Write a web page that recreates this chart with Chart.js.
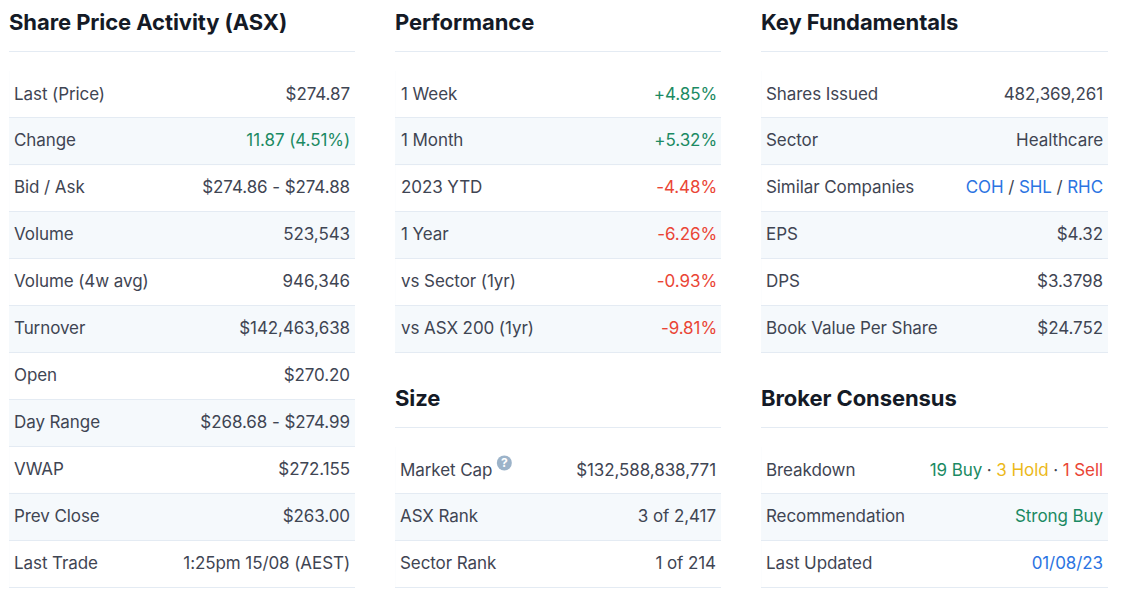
<!DOCTYPE html>
<html>
<head>
<meta charset="utf-8">
<title>Share Price Activity</title>
<script src="https://cdn.jsdelivr.net/npm/chart.js@4/dist/chart.umd.min.js"></script>
<style>
    html, body { margin: 0; padding: 0; background: #fff; }
    body { width: 1130px; height: 599px; overflow: hidden; position: relative; }
    canvas { position: absolute; }
</style>
</head>
<body>
<canvas id="activity"></canvas>
<canvas id="performance"></canvas>
<canvas id="size"></canvas>
<canvas id="fundamentals"></canvas>
<canvas id="broker"></canvas>
<script>
const TXT = "#3f4553";
const GREEN = "#1b8a63";
const RED = "#ea4535";
const BLUE = "#2b74e2";
const YELLOW = "#ecb91a";

const activityLabels = ["Last (Price)", "Change", "Bid / Ask", "Volume", "Volume (4w avg)", "Turnover", "Open", "Day Range", "VWAP", "Prev Close", "Last Trade"];
const activityValues = ["$274.87", "11.87 (4.51%)", "$274.86 - $274.88", "523,543", "946,346", "$142,463,638", "$270.20", "$268.68 - $274.99", "$272.155", "$263.00", "1:25pm 15/08 (AEST)"];
const activityColors = [TXT, GREEN, TXT, TXT, TXT, TXT, TXT, TXT, TXT, TXT, TXT];
const activityShade = [0, 1, 0, 1, 0, 1, 0, 1, 0, 1, 0];

const perfLabels = ["1 Week", "1 Month", "2023 YTD", "1 Year", "vs Sector (1yr)", "vs ASX 200 (1yr)"];
const perfValues = ["+4.85%", "+5.32%", "-4.48%", "-6.26%", "-0.93%", "-9.81%"];
const perfColors = [GREEN, GREEN, RED, RED, RED, RED];
const perfShade = [0, 1, 0, 1, 0, 1];

const sizeLabels = ["Market Cap", "ASX Rank", "Sector Rank"];
const sizeValues = ["$132,588,838,771", "3 of 2,417", "1 of 214"];
const sizeColors = [TXT, TXT, TXT];
const sizeShade = [0, 1, 0];

const fundLabels = ["Shares Issued", "Sector", "Similar Companies", "EPS", "DPS", "Book Value Per Share"];
const fundValues = ["482,369,261", "Healthcare", "", "$4.32", "$3.3798", "$24.752"];
const fundColors = [TXT, TXT, TXT, TXT, TXT, TXT];
const fundShade = [0, 1, 0, 1, 0, 1];
const similarText = ["COH", " / ", "SHL", " / ", "RHC"];
const similarColors = [BLUE, TXT, BLUE, TXT, BLUE];

const brokerLabels = ["Breakdown", "Recommendation", "Last Updated"];
const brokerValues = ["", "Strong Buy", "01/08/23"];
const brokerColors = [TXT, GREEN, BLUE];
const brokerShade = [0, 1, 0];
const breakdownText = ["19 Buy", " · ", "3 Hold", " · ", "1 Sell"];
const breakdownColors = [GREEN, TXT, YELLOW, TXT, RED];

const RULE = "#e4ebf3";
const SHADE = "#f5f9fc";
const FONT = "Inter";
const SIZE = 17;

// white under everything, the canvas has no alpha
const fondo = {
    id: "fondo",
    beforeDraw(chart) {
        const ctx = chart.ctx;
        ctx.save();
        ctx.fillStyle = "#fff";
        ctx.fillRect(0, 0, chart.width, chart.height);
        ctx.restore();
        ctx.letterSpacing = "-0.08px";
    }
};

// draws the rule under the title, the multi colour cells and the help icon
const extras = {
    id: "extras",
    afterDraw(chart, args, opts) {
        const ctx = chart.ctx;
        const y = chart.scales.y;
        ctx.save();
        ctx.strokeStyle = RULE;
        ctx.lineWidth = 1;
        ctx.beginPath();
        ctx.moveTo(0, 51.5);
        ctx.lineTo(chart.width, 51.5);
        ctx.stroke();

        ctx.font = SIZE + "px " + FONT;
        ctx.textBaseline = "middle";
        if (opts.parts) {
            let x = chart.width - 5;
            ctx.textAlign = "right";
            for (let i = opts.parts.text.length - 1; i >= 0; i--) {
                ctx.fillStyle = opts.parts.colors[i];
                ctx.fillText(opts.parts.text[i], x, y.getPixelForValue(opts.parts.row));
                x -= ctx.measureText(opts.parts.text[i]).width;
            }
        }
        if (opts.help) {
            const w = ctx.measureText(chart.data.labels[0]).width;
            const cx = 5 + w + 12;
            const cy = y.getPixelForValue(0) - 7.5;
            ctx.fillStyle = "#9cb3c9";
            ctx.beginPath();
            ctx.arc(cx, cy, 7.5, 0, Math.PI * 2);
            ctx.fill();
            ctx.fillStyle = "#fff";
            ctx.textAlign = "center";
            ctx.font = "bold 12px " + FONT;
            ctx.fillText("?", cx, cy + 0.5);
        }
        ctx.restore();
    }
};

// no room for the axes, the labels sit inside the rows
function sinMargen(scale) {
    scale.width = 0;
    scale.paddingTop = 0;
    scale.paddingBottom = 0;
}

function tabla(id, box, title, labels, values, colors, shade, extraOpts) {
    const canvas = document.getElementById(id);
    canvas.width = box.w;
    canvas.height = box.h;
    canvas.style.left = box.x + "px";
    canvas.style.top = box.y + "px";
    canvas.style.width = box.w + "px";
    canvas.style.height = box.h + "px";

    return new Chart(canvas.getContext("2d", { alpha: false }), {
        type: "bar",
        data: {
            labels: labels,
            datasets: [{
                data: shade,
                backgroundColor: SHADE,
                barPercentage: 1,
                categoryPercentage: 1
            }]
        },
        plugins: [fondo, extras],
        options: {
            indexAxis: "y",
            responsive: false,
            animation: false,
            devicePixelRatio: 1,
            layout: { padding: { bottom: box.pad } },
            plugins: {
                legend: { display: false },
                tooltip: { enabled: false },
                title: {
                    display: true,
                    text: title,
                    align: "start",
                    color: "#141a26",
                    font: { family: FONT, size: 22, weight: "700", lineHeight: 26.4 / 22 },
                    padding: { top: 10, bottom: 34.6 }
                },
                extras: extraOpts
            },
            scales: {
                x: { display: false, min: 0, max: 1 },
                y: {
                    position: "left",
                    afterFit: sinMargen,
                    border: { display: false },
                    grid: {
                        offset: true,
                        z: 1,
                        drawTicks: false,
                        color: c => c.index === 0 ? "rgba(0,0,0,0)" : RULE
                    },
                    ticks: {
                        mirror: true,
                        z: 1,
                        padding: box.inset || 5,
                        autoSkip: false,
                        maxRotation: 0,
                        color: TXT,
                        font: { family: FONT, size: SIZE }
                    }
                },
                y1: {
                    position: "right",
                    type: "category",
                    labels: values,
                    offset: true,
                    afterFit: sinMargen,
                    border: { display: false },
                    grid: { display: false, drawTicks: false },
                    ticks: {
                        mirror: true,
                        z: 1,
                        padding: box.insetR || -5,
                        autoSkip: false,
                        maxRotation: 0,
                        color: c => colors[c.index],
                        font: { family: FONT, size: SIZE }
                    }
                }
            }
        }
    });
}

tabla("activity", { x: 9, y: 0, w: 346, h: 589, pad: 2 }, "Share Price Activity (ASX)", activityLabels, activityValues, activityColors, activityShade, {});
tabla("performance", { x: 395, y: 0, w: 326, h: 355, pad: 2.6, inset: 6, insetR: -4 }, "Performance", perfLabels, perfValues, perfColors, perfShade, {});
tabla("size", { x: 395, y: 376, w: 326, h: 213, pad: 1.6 }, "Size", sizeLabels, sizeValues, sizeColors, sizeShade, { help: true });
tabla("fundamentals", { x: 761, y: 0, w: 347, h: 355, pad: 2.6 }, "Key Fundamentals", fundLabels, fundValues, fundColors, fundShade, { parts: { row: 2, text: similarText, colors: similarColors } });
tabla("broker", { x: 761, y: 376, w: 347, h: 213, pad: 1.6 }, "Broker Consensus", brokerLabels, brokerValues, brokerColors, brokerShade, { parts: { row: 0, text: breakdownText, colors: breakdownColors } });
</script>
</body>
</html>
